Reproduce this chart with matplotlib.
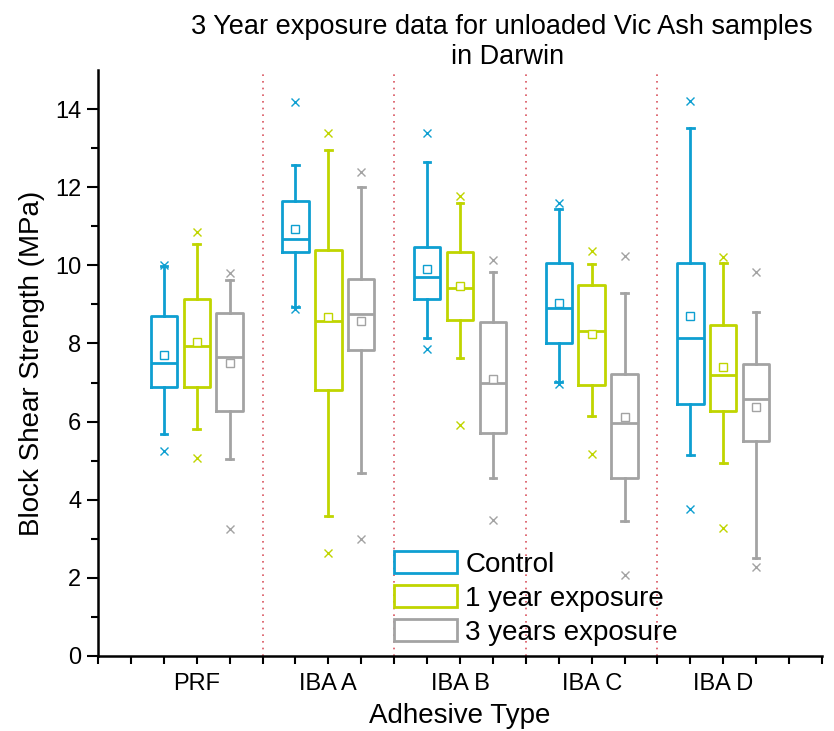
import matplotlib
matplotlib.use("Agg")
import matplotlib.pyplot as plt
from matplotlib.patches import Patch
import numpy as np

plt.rcParams['font.family'] = ['Liberation Sans', 'DejaVu Sans']

categories = ["PRF", "IBA A", "IBA B", "IBA C", "IBA D"]
series = ["Control", "1 year exposure", "3 years exposure"]
colors = ["#0e9fd1", "#c0d500", "#a3a3a3"]

# per series, per category values
whislo = [
    [5.67, 8.94, 8.13, 7.02, 5.15],
    [5.81, 3.58, 7.64, 6.15, 4.95],
    [5.03, 4.68, 4.55, 3.46, 2.50],
]
q1 = [
    [6.89, 10.33, 9.13, 8.00, 6.44],
    [6.89, 6.81, 8.60, 6.94, 6.27],
    [6.27, 7.83, 5.72, 4.55, 5.51],
]
med = [
    [7.49, 10.68, 9.71, 8.92, 8.15],
    [7.93, 8.57, 9.43, 8.33, 7.19],
    [7.66, 8.75, 6.98, 5.97, 6.58],
]
q3 = [
    [8.71, 11.65, 10.46, 10.07, 10.05],
    [9.14, 10.38, 10.35, 9.50, 8.47],
    [8.77, 9.64, 8.56, 7.21, 7.47],
]
whishi = [
    [9.99, 12.57, 12.65, 11.43, 13.51],
    [10.54, 12.95, 11.59, 10.03, 10.07],
    [9.62, 12.00, 9.83, 9.28, 8.81],
]
means = [
    [7.70, 10.94, 9.90, 9.03, 8.71],
    [8.04, 8.67, 9.48, 8.23, 7.39],
    [7.51, 8.57, 7.08, 6.11, 6.37],
]
outlier_hi = [
    [10.02, 14.17, 13.39, 11.60, 14.21],
    [10.86, 13.40, 11.77, 10.37, 10.22],
    [9.80, 12.40, 10.14, 10.24, 9.82],
]
outlier_lo = [
    [5.24, 8.89, 7.85, 6.95, 3.76],
    [5.08, 2.64, 5.91, 5.16, 3.28],
    [3.26, 2.99, 3.48, 2.07, 2.29],
]

fig = plt.figure(figsize=(8.34, 7.31), dpi=100)
ax = fig.add_axes([98/834, 1-656/731, (822-98)/834, (656-70)/731])

offsets = [-0.25, 0.0, 0.25]
xpos = np.arange(1, len(categories) + 1)
for s in range(3):
    stats = []
    for c in range(len(categories)):
        stats.append(dict(med=med[s][c], q1=q1[s][c], q3=q3[s][c],
                          whislo=whislo[s][c], whishi=whishi[s][c],
                          mean=means[s][c],
                          fliers=[outlier_hi[s][c], outlier_lo[s][c]]))
    col = colors[s]
    ax.bxp(stats, positions=xpos + offsets[s], widths=0.2,
           capwidths=0.05, showmeans=True, patch_artist=False,
           boxprops=dict(color=col, linewidth=2.0),
           medianprops=dict(color=col, linewidth=2.0),
           whiskerprops=dict(color=col, linewidth=2.0),
           capprops=dict(color=col, linewidth=2.0),
           meanprops=dict(marker='s', markerfacecolor='white', markeredgecolor=col,
                          markersize=6, markeredgewidth=1.0),
           flierprops=dict(marker='x', markeredgecolor=col, markersize=6,
                           markeredgewidth=1.0, linestyle='none'),
           manage_ticks=False)

for d in [1.5, 2.5, 3.5, 4.5]:
    ax.axvline(d, color="#d9545f", linestyle=(0, (1, 3)), linewidth=1.2, zorder=0)

ax.set_xlim(0.25, 5.75)
ax.set_ylim(0, 15)
ax.set_xticks(xpos)
ax.set_xticklabels(categories)
ax.set_xticks(np.arange(0.25, 5.76, 0.25), minor=True)
ax.set_yticks(np.arange(0, 15, 2))
ax.set_yticks(np.arange(1, 15, 2), minor=True)
ax.tick_params(axis='both', which='both', direction='out', width=1.5, labelsize=17)
ax.tick_params(axis='x', which='both', length=6, pad=6)
ax.tick_params(axis='y', which='major', length=8, pad=4)
ax.tick_params(axis='y', which='minor', length=5)
for sp in ['top', 'right']:
    ax.spines[sp].set_visible(False)
for sp in ['left', 'bottom']:
    ax.spines[sp].set_linewidth(1.8)

ax.set_xlabel("Adhesive Type", fontsize=20, labelpad=6)
ax.set_ylabel("Block Shear Strength (MPa)", fontsize=20, labelpad=7)

fig.text(502/834, 1-27/731, "3 Year exposure data for unloaded Vic Ash samples",
         ha='center', va='center', fontsize=19.5)
fig.text(508/834, 1-57/731, "in Darwin", ha='center', va='center', fontsize=19.5)

handles = [Patch(facecolor='white', edgecolor=c, linewidth=2.0) for c in colors]
leg = ax.legend(handles, series, loc='upper left', bbox_to_anchor=(394/834, 1-551/731),
                bbox_transform=fig.transFigure, frameon=False, fontsize=20,
                handlelength=2.25, handleheight=0.85, handletextpad=0.32,
                labelspacing=0.26, borderpad=0.0, borderaxespad=0.0)

fig.savefig("out.png", dpi=100)
